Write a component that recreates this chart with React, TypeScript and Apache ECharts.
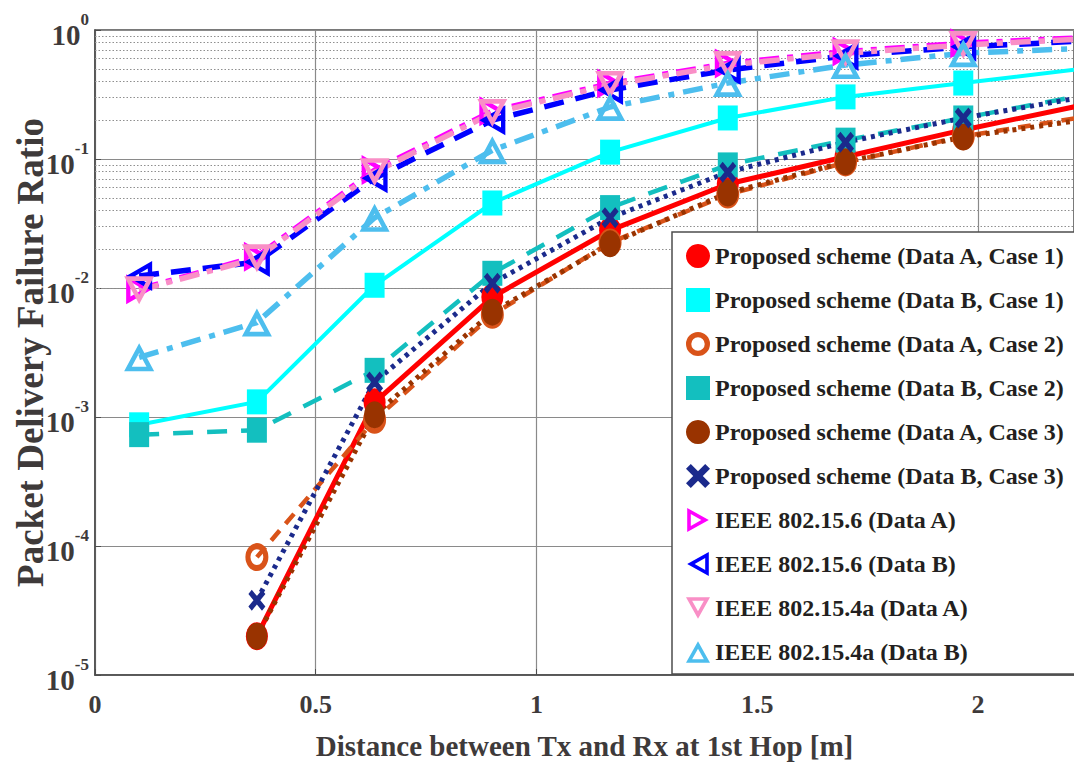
import { useEffect, useRef } from 'react';
import * as echarts from 'echarts';

// Distance between Tx and Rx at the first hop [m]
const distances = [0.1, 0.3667, 0.6333, 0.9, 1.1667, 1.4333, 1.7, 1.9667, 2.2333];

// Packet delivery failure ratio for each scheme (null = not simulated)
const propDataACase1 = [null, 2.0e-5, 1.3e-3, 8.5e-3, 0.028, 0.064, 0.104, 0.168, 0.26];
const propDataBCase1 = [8.7e-4, 1.31e-3, 0.0105, 0.0456, 0.113, 0.208, 0.303, 0.388, 0.5];
const propDataACase2 = [null, 8.2e-5, 9.5e-4, 6.2e-3, 0.0225, 0.053, 0.094, 0.15, 0.21];
const propDataBCase2 = [7.3e-4, 7.9e-4, 2.3e-3, 0.013, 0.042, 0.09, 0.14, 0.208, 0.31];
const propDataACase3 = [null, 2.0e-5, 1.04e-3, 6.5e-3, 0.022, 0.0545, 0.095, 0.148, 0.2];
const propDataBCase3 = [null, 3.8e-5, 1.87e-3, 0.0109, 0.035, 0.079, 0.135, 0.208, 0.3];
const ieee156DataA = [9.8e-3, 0.0175, 0.082, 0.235, 0.385, 0.55, 0.68, 0.79, 0.87];
const ieee156DataB = [0.0124, 0.0159, 0.071, 0.2, 0.343, 0.49, 0.63, 0.74, 0.82];
const ieee154aDataA = [9.6e-3, 0.017, 0.079, 0.227, 0.375, 0.535, 0.66, 0.765, 0.85];
const ieee154aDataB = [2.9e-3, 5.4e-3, 0.035, 0.117, 0.253, 0.388, 0.535, 0.66, 0.72];

const xTicks = [0, 0.5, 1, 1.5, 2];
const decades = [-5, -4, -3, -2, -1];
const minorMultipliers = [2, 3, 4, 5, 6, 7, 8, 9];

const FONT = 'Liberation Serif';
const AXIS_TEXT = '#3e3a3a';

// Hollow marker outlines: each inner contour winds the other way so it stays open
const RING = 'path://M0,-10 A10,10 0 1,1 0,10 A10,10 0 1,1 0,-10 Z M0,-5.6 A5.6,5.6 0 1,0 0,5.6 A5.6,5.6 0 1,0 0,-5.6 Z';
const TRI_UP = 'path://M10,0 L20,18 L0,18 Z M10,6.2 L5.1,15 L14.9,15 Z';
const TRI_DOWN = 'path://M10,18 L0,0 L20,0 Z M10,11.8 L14.9,3 L5.1,3 Z';
const TRI_RIGHT = 'path://M18,10 L0,20 L0,0 Z M11.8,10 L3,5.1 L3,14.9 Z';
const TRI_LEFT = 'path://M0,10 L18,0 L18,20 Z M6.2,10 L15,14.9 L15,5.1 Z';
const CROSS = 'path://M2,0 L5,3 L8,0 L10,2 L7,5 L10,8 L8,10 L5,7 L2,10 L0,8 L3,5 L0,2 Z';

type SeriesSpec = {
  name: string;
  values: (number | null)[];
  color: string;
  width: number;
  dash: 'solid' | number[];
  symbol: string;
  size: number[];
};

const specs: SeriesSpec[] = [
  { name: 'Proposed scheme (Data A, Case 1)', values: propDataACase1, color: '#ff0000', width: 5, dash: 'solid', symbol: 'circle', size: [22, 28] },
  { name: 'Proposed scheme (Data B, Case 1)', values: propDataBCase1, color: '#00ffff', width: 4, dash: 'solid', symbol: 'rect', size: [20, 25] },
  { name: 'Proposed scheme (Data A, Case 2)', values: propDataACase2, color: '#d95319', width: 4.5, dash: [13, 9], symbol: RING, size: [23, 28] },
  { name: 'Proposed scheme (Data B, Case 2)', values: propDataBCase2, color: '#13bfbf', width: 4.5, dash: [20, 14], symbol: 'rect', size: [20, 25] },
  { name: 'Proposed scheme (Data A, Case 3)', values: propDataACase3, color: '#993300', width: 5, dash: [4, 5], symbol: 'circle', size: [21, 27] },
  { name: 'Proposed scheme (Data B, Case 3)', values: propDataBCase3, color: '#1b2a8c', width: 5, dash: [4, 5], symbol: CROSS, size: [17, 21] },
  { name: 'IEEE 802.15.6 (Data A)', values: ieee156DataA, color: '#ff00ff', width: 5.5, dash: [20, 8, 6, 8], symbol: TRI_RIGHT, size: [26, 30] },
  { name: 'IEEE 802.15.6 (Data B)', values: ieee156DataB, color: '#0000ff', width: 5.5, dash: [20, 12], symbol: TRI_LEFT, size: [26, 30] },
  { name: 'IEEE 802.15.4a (Data A)', values: ieee154aDataA, color: '#f98fc6', width: 5.5, dash: [20, 8, 6, 8], symbol: TRI_DOWN, size: [30, 28] },
  { name: 'IEEE 802.15.4a (Data B)', values: ieee154aDataB, color: '#4dbeee', width: 5.5, dash: [20, 9, 6, 9], symbol: TRI_UP, size: [30, 28] },
];

export default function App() {
  const ref = useRef<HTMLDivElement>(null);

  useEffect(() => {
    if (!ref.current) return;
    const chart = echarts.init(ref.current, undefined, { renderer: 'svg' });

    const minorValues: number[] = [];
    decades.forEach((d) => minorMultipliers.forEach((m) => minorValues.push(m * Math.pow(10, d))));

    const lineSeries = specs.map((s) => ({
      name: s.name,
      type: 'line',
      data: distances
        .map((x, i) => [x, s.values[i]])
        .filter((p) => p[1] !== null),
      symbol: s.symbol,
      symbolSize: s.size,
      symbolKeepAspect: false,
      showAllSymbol: true,
      clip: true,
      lineStyle: { color: s.color, width: s.width, type: s.dash, cap: 'butt' },
      itemStyle: { color: s.color, borderWidth: 0 },
      emphasis: { disabled: true },
      z: 3,
    }));

    const minorGrid = {
      name: 'minor grid',
      type: 'line',
      data: [],
      silent: true,
      z: 1,
      markLine: {
        silent: true,
        symbol: ['none', 'none'],
        label: { show: false },
        lineStyle: { color: '#8f8f8f', type: [1.5, 2], width: 1 },
        emphasis: { disabled: true },
        z: 1,
        data: minorValues.map((v) => ({ yAxis: v })),
      },
    };

    chart.setOption({
      animation: false,
      backgroundColor: '#ffffff',
      grid: {
        left: 95,
        right: 0,
        top: 30,
        bottom: 91,
        containLabel: false,
        outerBoundsMode: 'none',
        show: true,
        borderColor: '#4d4d4d',
        borderWidth: 1.5,
      },
      xAxis: {
        type: 'value',
        min: 0,
        max: 2.2175,
        interval: 0.5,
        name: 'Distance between Tx and Rx at 1st Hop [m]',
        nameLocation: 'middle',
        nameGap: 56,
        nameMoveOverlap: false,
        nameTextStyle: { fontFamily: FONT, fontWeight: 'bold', fontSize: 29, color: AXIS_TEXT },
        axisLine: { show: true, lineStyle: { color: '#4d4d4d', width: 1.5 } },
        axisTick: { show: true, inside: true, length: 6, lineStyle: { color: '#4d4d4d' } },
        axisLabel: {
          fontFamily: FONT,
          fontWeight: 'bold',
          fontSize: 26,
          color: AXIS_TEXT,
          margin: 16,
          showMaxLabel: false,
          formatter: (v: number) => (xTicks.includes(v) ? String(v) : ''),
        },
        splitLine: { show: true, lineStyle: { color: '#8a8a8a', width: 1.2 } },
      },
      yAxis: {
        type: 'log',
        logBase: 10,
        min: 1e-5,
        max: 1,
        name: 'Packet Delivery Failure Ratio',
        nameLocation: 'middle',
        nameGap: 46,
        nameMoveOverlap: false,
        nameTextStyle: { fontFamily: FONT, fontWeight: 'bold', fontSize: 37, color: AXIS_TEXT },
        axisLine: { show: true, lineStyle: { color: '#4d4d4d', width: 1.5 } },
        axisTick: { show: true, inside: true, length: 6, lineStyle: { color: '#4d4d4d' } },
        axisLabel: {
          margin: 6,
          formatter: (v: number) => `{b|10}{s|${Math.round(Math.log10(v))}}`,
          rich: {
            b: { fontFamily: FONT, fontWeight: 'bold', fontSize: 29, color: AXIS_TEXT, verticalAlign: 'bottom', lineHeight: 38 },
            s: { fontFamily: FONT, fontWeight: 'bold', fontSize: 17, color: AXIS_TEXT, verticalAlign: 'top', lineHeight: 20 },
          },
        },
        splitLine: { show: true, lineStyle: { color: '#8a8a8a', width: 1.2 } },
      },
      legend: {
        data: specs.map((s) => ({ name: s.name, icon: s.symbol })),
        orient: 'vertical',
        left: 672,
        top: 232,
        padding: [12, 60, 10, 14],
        itemWidth: 24,
        itemHeight: 24,
        itemGap: 20,
        backgroundColor: '#ffffff',
        borderColor: '#4d4d4d',
        borderWidth: 1.5,
        borderRadius: 0,
        textStyle: { fontFamily: FONT, fontWeight: 'bold', fontSize: 24, color: '#231f20' },
        selectedMode: false,
        z: 10,
      },
      series: [minorGrid, ...lineSeries],
    });

    return () => chart.dispose();
  }, []);

  return (
    <div
      ref={ref}
      style={{ position: 'fixed', left: 0, top: 0, width: 1074, height: 766, background: '#fff' }}
    />
  );
}
